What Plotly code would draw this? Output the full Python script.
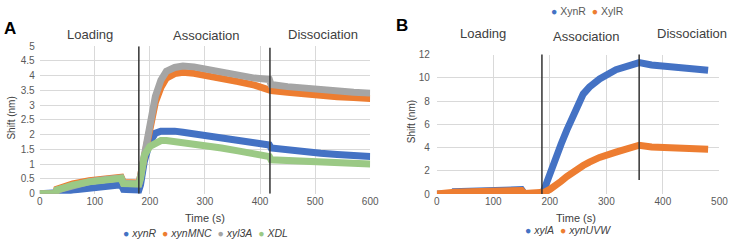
import plotly.graph_objects as go

W, H = 735, 246

# ---------------- Panel A data ----------------
time_A = [0, 29, 31, 60, 90, 120, 148, 152, 180, 183, 190, 200, 210, 220, 230, 245, 260,
          280, 300, 330, 360, 390, 417, 420, 450, 480, 510, 540, 570, 600]
xynR = [0, 0, 0.03, 0.12, 0.20, 0.25, 0.30, 0.15, 0.12, 0.30, 1.10, 1.75, 2.05, 2.12, 2.14, 2.12, 2.08,
        2.03, 1.98, 1.90, 1.81, 1.73, 1.65, 1.55, 1.48, 1.42, 1.37, 1.33, 1.29, 1.26]
xynMNC = [0, 0, 0.15, 0.33, 0.44, 0.51, 0.56, 0.38, 0.36, 0.60, 1.30, 2.30, 3.10, 3.60, 3.92, 4.07, 4.12,
          4.08, 4.02, 3.92, 3.80, 3.68, 3.57, 3.50, 3.44, 3.38, 3.33, 3.29, 3.26, 3.23]
xyl3A = [0, 0, 0.12, 0.29, 0.41, 0.48, 0.53, 0.35, 0.33, 0.60, 1.30, 2.45, 3.30, 3.85, 4.15, 4.28, 4.33,
         4.30, 4.22, 4.12, 4.00, 3.92, 3.87, 3.70, 3.63, 3.57, 3.52, 3.48, 3.44, 3.41]
XDL = [0, 0, 0.12, 0.29, 0.40, 0.47, 0.52, 0.34, 0.33, 0.50, 1.30, 1.60, 1.72, 1.80, 1.80, 1.77, 1.73,
       1.68, 1.63, 1.55, 1.45, 1.36, 1.26, 1.15, 1.12, 1.09, 1.07, 1.05, 1.03, 1.01]
names_A = ["xynR", "xynMNC", "xyl3A", "XDL"]
phase_lines_A = [180, 418]

# ---------------- Panel B data ----------------
time_B = [0, 29, 31, 60, 90, 120, 150, 155, 186, 190, 200, 210, 220, 230, 245, 259, 270,
          288, 317, 340, 358, 380, 416, 450, 480]
xylA = [0, 0, 0.20, 0.25, 0.30, 0.35, 0.38, 0.05, 0.05, 0.40, 1.80, 3.10, 4.30, 5.50, 7.20, 8.60, 9.20,
        9.90, 10.70, 11.10, 11.30, 11.10, 10.95, 10.80, 10.65]
xynUVW = [0, 0, 0.15, 0.20, 0.25, 0.28, 0.30, 0.05, 0.05, 0.15, 0.40, 0.70, 1.10, 1.50, 2.05, 2.45, 2.75,
          3.15, 3.60, 3.95, 4.20, 4.05, 3.98, 3.90, 3.85]
names_B = ["xylA", "xynUVW"]
top_legend = ["XynR", "XylR"]
phase_lines_B = [186, 358]

phases = ["Loading", "Association", "Dissociation"]

BLUE, ORANGE, GRAY, GREEN = "#4472C4", "#ED7D31", "#A5A5A5", "#9BC985"
FONT = "Liberation Sans, Arial, sans-serif"
TICK = "#595959"
TXT = "#404040"
GRID = "#d9d9d9"


def px(x):
    return x / W


def py(y):
    return 1 - y / H


fig = go.Figure()

for vals, col in zip([xynR, xynMNC, xyl3A, XDL], [BLUE, ORANGE, GRAY, GREEN]):
    fig.add_trace(go.Scatter(x=time_A, y=vals, mode="lines", line=dict(color=col, width=7),
                             showlegend=False, hoverinfo="skip", xaxis="x", yaxis="y"))

for vals, col in zip([xylA, xynUVW], [BLUE, ORANGE]):
    fig.add_trace(go.Scatter(x=time_B, y=vals, mode="lines", line=dict(color=col, width=7),
                             showlegend=False, hoverinfo="skip", xaxis="x2", yaxis="y2"))

axis_common = dict(showgrid=True, gridcolor=GRID, gridwidth=1, zeroline=False,
                   showline=False, ticks="", tickfont=dict(family=FONT, size=10, color=TICK))

fig.update_layout(
    width=W, height=H, margin=dict(l=0, r=0, t=0, b=0),
    paper_bgcolor="white", plot_bgcolor="white",
    font=dict(family=FONT, color=TXT),
    xaxis=dict(domain=[px(37.3), px(373.3)], range=[0, 600], dtick=100, anchor="y", **axis_common),
    yaxis=dict(domain=[py(197.3), py(42.3)], range=[0, 5], dtick=0.5, anchor="x",
               ticklabelstandoff=4, **axis_common),
    xaxis2=dict(domain=[px(441), px(728.3)], range=[0, 500], dtick=100, anchor="y2", **axis_common),
    yaxis2=dict(domain=[py(197.7), py(51)], range=[0, 12], dtick=2, anchor="x2",
                ticklabelstandoff=6, **axis_common),
)

shapes = []
for xv, (y0, y1) in zip(phase_lines_A, [(0, 5.0), (0, 4.95)]):
    shapes.append(dict(type="line", xref="x", yref="y", x0=xv, x1=xv, y0=y0, y1=y1,
                       line=dict(color="#333333", width=1.5)))
for xv, (y0, y1) in zip(phase_lines_B, [(0, 12.3), (1.2, 12.85)]):
    shapes.append(dict(type="line", xref="x2", yref="y2", x0=xv, x1=xv, y0=y0, y1=y1,
                       line=dict(color="#333333", width=1.5)))
fig.update_layout(shapes=shapes)

ann = []


def text(x, y, s, size=12, color=TXT, angle=0, bold=False):
    ann.append(dict(x=px(x), y=py(y), xref="paper", yref="paper", text=("<b>%s</b>" % s) if bold else s,
                    showarrow=False, xanchor="center", yanchor="middle", textangle=angle,
                    font=dict(family=FONT, size=size, color=color)))


# panel letters
text(7, 24, "A", size=17, color="black", bold=True)
text(406, 20, "B", size=17, color="black", bold=True)

# phase labels
for (x, y), s in zip([(88, 30), (206, 31), (325, 30)], phases):
    text(x, y, s, size=13)
for (x, y), s in zip([(488, 29), (593, 32), (700, 29)], phases):
    text(x, y, s, size=13)

# axis titles
text(205, 223, "Time (s)", size=11)
text(583, 223, "Time (s)", size=11)
text(8.5, 118, "Shift (nm)", size=10, angle=-90)
text(415, 122, "Shift (nm)", size=10, angle=-90)


def legend_text(names, colors, italic=True):
    parts = []
    for n, c in zip(names, colors):
        label = "<i>%s</i>" % n if italic else n
        parts.append('<span style="color:%s">●</span> %s' % (c, label))
    return "  ".join(parts)


text(206, 239, legend_text(names_A, [BLUE, ORANGE, GRAY, GREEN]), size=10.5, color=TXT)
text(574, 235, legend_text(names_B, [BLUE, ORANGE]), size=10.5, color=TXT)
text(594, 5, legend_text(top_legend, [BLUE, ORANGE], italic=False), size=10.5, color=TICK)

fig.update_layout(annotations=ann)

fig.write_html("out.html", config={"displayModeBar": False, "staticPlot": True},
               post_script="document.body.style.margin='0';document.body.style.overflow='hidden';")
